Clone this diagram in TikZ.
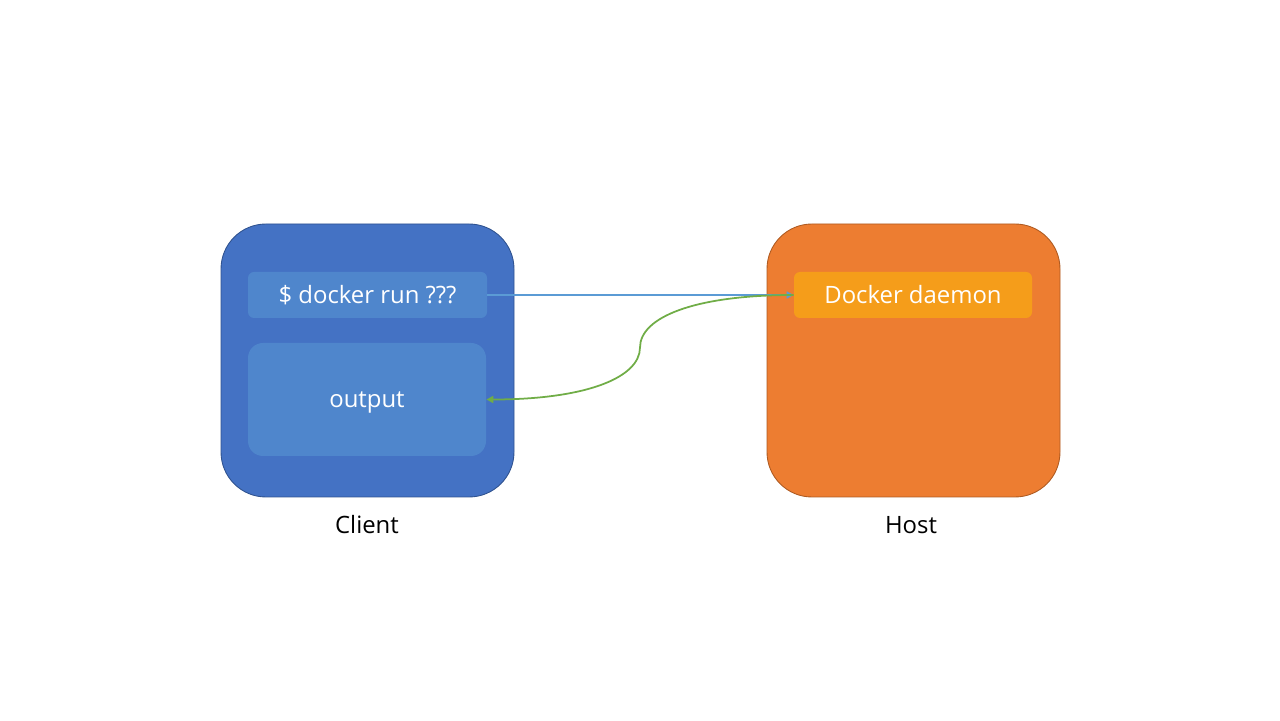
\documentclass[tikz,border=0pt]{standalone}
\usepackage{fontspec}
\setmainfont{Open Sans}
\usepackage{tikz}
\usetikzlibrary{arrows.meta}

\definecolor{clientblue}{HTML}{4472C4}
\definecolor{clientline}{HTML}{2F528F}
\definecolor{innerblue}{HTML}{4F86CC}
\definecolor{hostorange}{HTML}{ED7D31}
\definecolor{hostline}{HTML}{AE5A21}
\definecolor{daemonorange}{HTML}{F59D1A}
\definecolor{callblue}{HTML}{5B9BD5}
\definecolor{replygreen}{HTML}{70AD47}

\tikzset{
  machine/.style={rounded corners=0.9cm, minimum width=5.86cm, minimum height=5.46cm, line width=0.5pt},
  cmdbox/.style={fill=innerblue, rounded corners=0.12cm, minimum width=4.78cm, minimum height=0.92cm, text=white, font=\fontsize{13.6}{16}\selectfont},
  tag/.style={font=\fontsize{13.6}{16}\selectfont}
}

\begin{document}
\begin{tikzpicture}
\useasboundingbox (0,0) rectangle (25.6,14.4);
\path (7.35,7.19) node[machine, draw=clientline, fill=clientblue] (client) {}
		(18.27,7.19) node[machine, draw=hostline, fill=hostorange] (host) {}
		(7.35,8.5) node[cmdbox] (cmd) {\$ docker run ???}
		(7.34,6.41) node[cmdbox, minimum width=4.76cm, minimum height=2.26cm, rounded corners=0.3cm, text height=0.9em, text depth=0pt] (out) {output}
		(18.26,8.5) node[cmdbox, fill=daemonorange, minimum width=4.76cm] (daemon) {Docker daemon}
		(7.34,3.9) node[tag] (clientname) {Client}
		(18.22,3.9) node[tag] (hostname) {Host}
		(12.8,7.45) coordinate (bend);

\draw[callblue, line width=0.9pt, -{Triangle[length=4pt,width=4pt]}] (cmd.east) -- (daemon.west);
\draw[replygreen, line width=1pt, -{Triangle[length=4pt,width=4pt]}] (daemon.west)
	to[out=180, in=90, out distance=2cm, in distance=0.6cm] (bend)
	to[out=-90, in=0, out distance=0.6cm, in distance=2cm] (out.east);
\end{tikzpicture}
\end{document}
